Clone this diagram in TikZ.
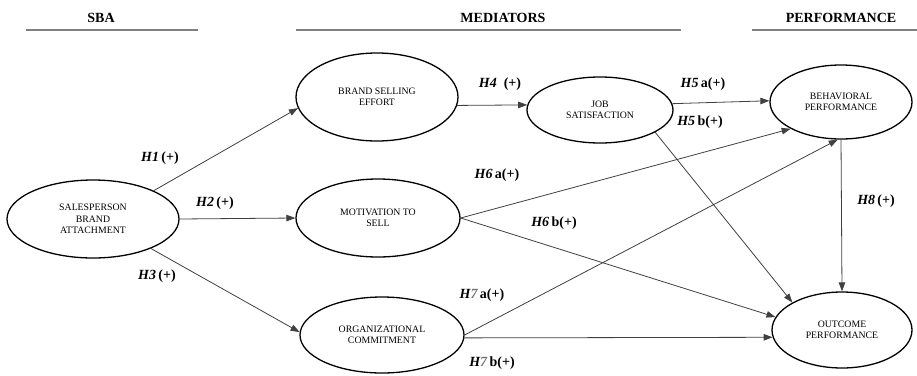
\documentclass[tikz,border=0pt]{standalone}
\usepackage{fontspec}
\setmainfont{Liberation Serif}
\usetikzlibrary{shapes.geometric,arrows.meta}
\tikzset{
  construct/.style={ellipse,draw=black,line width=1.3pt,inner sep=0pt,align=center,
    font=\fontsize{9.8}{11.5}\selectfont},
  link/.style={draw=black!75,line width=0.8pt,-{Triangle[length=9pt,width=6.5pt]}},
  hyp/.style={font=\fontsize{14}{16}\selectfont\bfseries},
  header/.style={font=\fontsize{14}{16}\selectfont\bfseries},
  rule/.style={draw=black!50,line width=1.4pt}
}
\newcommand{\hy}[2]{\textit{H#1}\,#2}
\begin{document}
\begin{tikzpicture}[x=1pt,y=-1pt]
\useasboundingbox (0,0) rectangle (917,375);
% headers
\node[header] (hsba) at (101,18) {SBA};
\node[header] (hmed) at (503,18) {MEDIATORS};
\node[header] (hperf) at (841,18) {PERFORMANCE};
\coordinate (r1a) at (26,30); \coordinate (r1b) at (198,30);
\coordinate (r2a) at (296,30); \coordinate (r2b) at (681,30);
\coordinate (r3a) at (752,30); \coordinate (r3b) at (917,30);
\draw[rule] (r1a) -- (r1b);
\draw[rule] (r2a) -- (r2b);
\draw[rule] (r3a) -- (r3b);
% constructs
\node[construct,minimum width=172pt,minimum height=78pt] (sba) at (93,219) {SALESPERSON\\BRAND\\ATTACHMENT};
\node[construct,minimum width=162pt,minimum height=88pt] (bse) at (377,97) {BRAND SELLING\\EFFORT};
\node[construct,minimum width=146pt,minimum height=66pt] (js) at (600,110) {JOB\\SATISFACTION};
\node[construct,minimum width=142pt,minimum height=74pt] (bp) at (841,102) {BEHAVIORAL\\PERFORMANCE};
\node[construct,minimum width=164pt,minimum height=78pt] (mts) at (378,218) {MOTIVATION TO\\SELL};
\node[construct,minimum width=164pt,minimum height=76pt] (oc) at (382,335) {ORGANIZATIONAL\\COMMITMENT};
\node[construct,minimum width=140pt,minimum height=76pt] (op) at (842,330) {OUTCOME\\PERFORMANCE};
% links
\draw[link] (sba.25) -- (bse.188);
\draw[link] (sba.east) -- (mts.west);
\draw[link] (sba.-27) -- (oc.178);
\draw[link] (bse.-6) -- (js.176);
\draw[link] (js.5) -- (bp.179);
\draw[link] (js.-22) -- (op.151);
\draw[link] (mts.east) -- (bp.208);
\draw[link] (mts.east) -- (op.169);
\draw[link] (oc.east) -- (bp.265);
\draw[link] (oc.-2) -- (op.186);
\draw[link] (bp.south) -- (op.north);
% hypotheses
\node[hyp] (h1) at (160,158) {\hy{1}{(+)}};
\node[hyp] (h2) at (215,203) {\hy{2}{(+)}};
\node[hyp] (h3) at (157,276) {\hy{3}{(+)}};
\node[hyp] (h4) at (500,84) {\textit{H4}\ \ (+)};
\node[hyp] (h5a) at (703,84) {\hy{5}{a(+)}};
\node[hyp] (h5b) at (700,122) {\hy{5}{b(+)}};
\node[hyp] (h6a) at (497,175) {\hy{6}{a(+)}};
\node[hyp] (h6b) at (554,223) {\hy{6}{b(+)}};
\node[hyp] (h7a) at (482,295) {\textit{H\textcolor{black!55}{7}}\,a(+)};
\node[hyp] (h7b) at (492,363) {\textit{H\textcolor{black!55}{7}}\,b(+)};
\node[hyp] (h8) at (876,201) {\hy{8}{(+)}};
\end{tikzpicture}
\end{document}
